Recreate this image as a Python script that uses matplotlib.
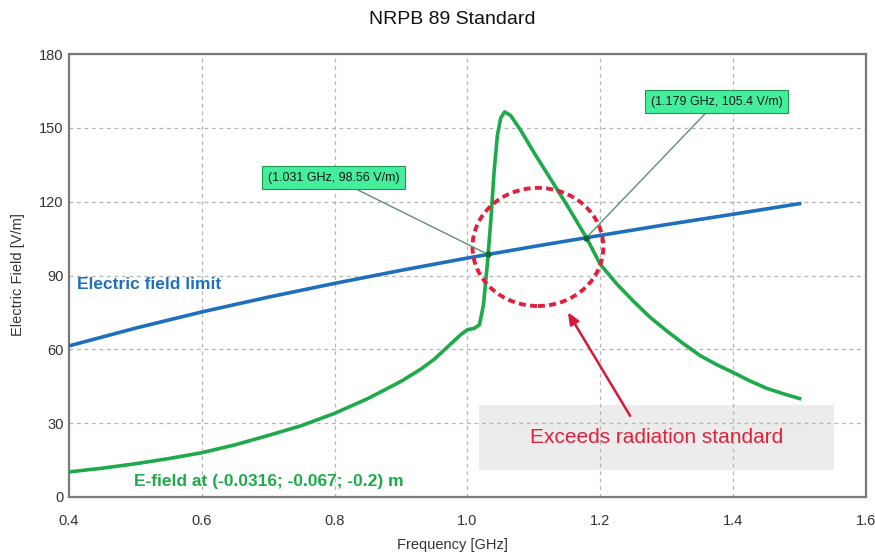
import numpy as np
import matplotlib.pyplot as plt
from matplotlib.patches import Ellipse, Rectangle

plt.rcParams['font.family'] = ['Liberation Sans', 'DejaVu Sans']

# Electric field limit (NRPB 89)
limit_f = [0.4, 0.5, 0.6, 0.7, 0.8, 0.9, 1.0, 1.1, 1.2, 1.3, 1.4, 1.5]
limit_e = [61.4, 68.6, 75.2, 81.2, 86.8, 92.1, 97.1, 101.8, 106.3, 110.7, 114.9, 119.2]

# Simulated E-field at the probe point
field_f = [0.4, 0.45, 0.5, 0.55, 0.6, 0.65, 0.7, 0.75, 0.8, 0.85, 0.9, 0.93, 0.95,
           0.97, 0.99, 1.0, 1.01, 1.018, 1.024, 1.03, 1.035, 1.04, 1.045, 1.05,
           1.056, 1.065, 1.08, 1.1, 1.15, 1.179, 1.2, 1.225, 1.25, 1.275, 1.3,
           1.325, 1.35, 1.375, 1.4, 1.425, 1.45, 1.475, 1.5]
field_e = [10.2, 11.7, 13.5, 15.6, 18.0, 21.2, 25.0, 29.0, 34.0, 40.0, 47.0, 52.0, 56.0,
           61.0, 66.0, 68.0, 68.5, 70.0, 78.0, 95.0, 112.0, 132.0, 147.0, 154.0,
           156.5, 155.0, 149.0, 140.0, 118.5, 105.4, 94.5, 86.5, 79.5, 73.0, 67.5,
           62.3, 57.5, 53.8, 50.6, 47.2, 44.2, 42.0, 40.0]

markers = [(1.031, 98.56, "(1.031 GHz, 98.56 V/m)", 0.798, 129.7),
           (1.179, 105.4, "(1.179 GHz, 105.4 V/m)", 1.375, 160.6)]

blue = '#1f6fbf'
green = '#1eaa4a'
red = '#e0203c'

fig = plt.figure(figsize=(8.75, 5.56), dpi=100)
ax = fig.add_axes([69 / 875, 1 - 497 / 556, (866 - 69) / 875, (497 - 54) / 556])

ax.set_xlim(0.4, 1.6)
ax.set_ylim(0, 180)
ax.set_xticks(np.arange(0.4, 1.61, 0.2))
ax.set_xticklabels(['0.4', '0.6', '0.8', '1.0', '1.2', '1.4', '1.6'])
ax.set_yticks([0, 30, 60, 90, 120, 150, 180])
ax.grid(True, linestyle=(0, (3, 3)), color='#b4b4b4', linewidth=0.9)
ax.tick_params(length=0, labelsize=10.5, labelcolor='#333333', pad=4)
ax.tick_params(axis='x', pad=12)
for s in ax.spines.values():
    s.set_color('#7a7a7a')
    s.set_linewidth(1.6)

# gray note box
ax.add_patch(Rectangle((1.017, 11), 0.535, 26.5, facecolor='#ececec', edgecolor='none', zorder=1))

ax.plot(limit_f, limit_e, color=blue, linewidth=2.6, zorder=3)
ax.plot(field_f, field_e, color=green, linewidth=2.6, zorder=3)

# marker labels with leader lines
for x, y, txt, tx, ty in markers:
    ax.annotate(txt, xy=(x, y), xytext=(tx, ty), ha='center', va='center',
                fontsize=9, color='#1a1a1a',
                bbox=dict(boxstyle='square,pad=0.45', facecolor='#45ee9c', edgecolor='#1b9a50', linewidth=0.8),
                arrowprops=dict(arrowstyle='-', color='#5f8f74', linewidth=1.0, shrinkA=0, shrinkB=0),
                zorder=5)
    ax.plot([x], [y], 'o', color='#0b6a2e', markersize=3.5, zorder=6)

# dashed red circle
ax.add_patch(Ellipse((1.106, 101.6), 0.197, 48, fill=False, edgecolor=red,
                     linewidth=2.8, linestyle=(0, (1.8, 1.1)), zorder=4))

ax.annotate('', xy=(1.149, 76), xytext=(1.247, 32),
            arrowprops=dict(arrowstyle='-|>,head_length=0.7,head_width=0.3', color='#d8173a', linewidth=1.8),
            zorder=4)

ax.text(1.2845, 24.3, 'Exceeds radiation standard', ha='center', va='center',
        fontsize=15, color=red, zorder=4)
ax.text(0.412, 86.5, 'Electric field limit', ha='left', va='center',
        fontsize=12.5, fontweight='bold', color=blue)
ax.text(0.498, 6.5, 'E-field at (-0.0316; -0.067; -0.2) m', ha='left', va='center',
        fontsize=12.5, fontweight='bold', color=green)

fig.text(452 / 875, 1 - 20 / 556, 'NRPB 89 Standard', ha='center', va='center', fontsize=14, color='#111111')
fig.text(452 / 875, 1 - 545 / 556, 'Frequency [GHz]', ha='center', va='center', fontsize=10.5, color='#333333')
fig.text(18 / 875, 1 - 275 / 556, 'Electric Field [V/m]', ha='center', va='center', rotation=90,
         fontsize=10.5, color='#333333')

fig.savefig('out.png', dpi=100)
